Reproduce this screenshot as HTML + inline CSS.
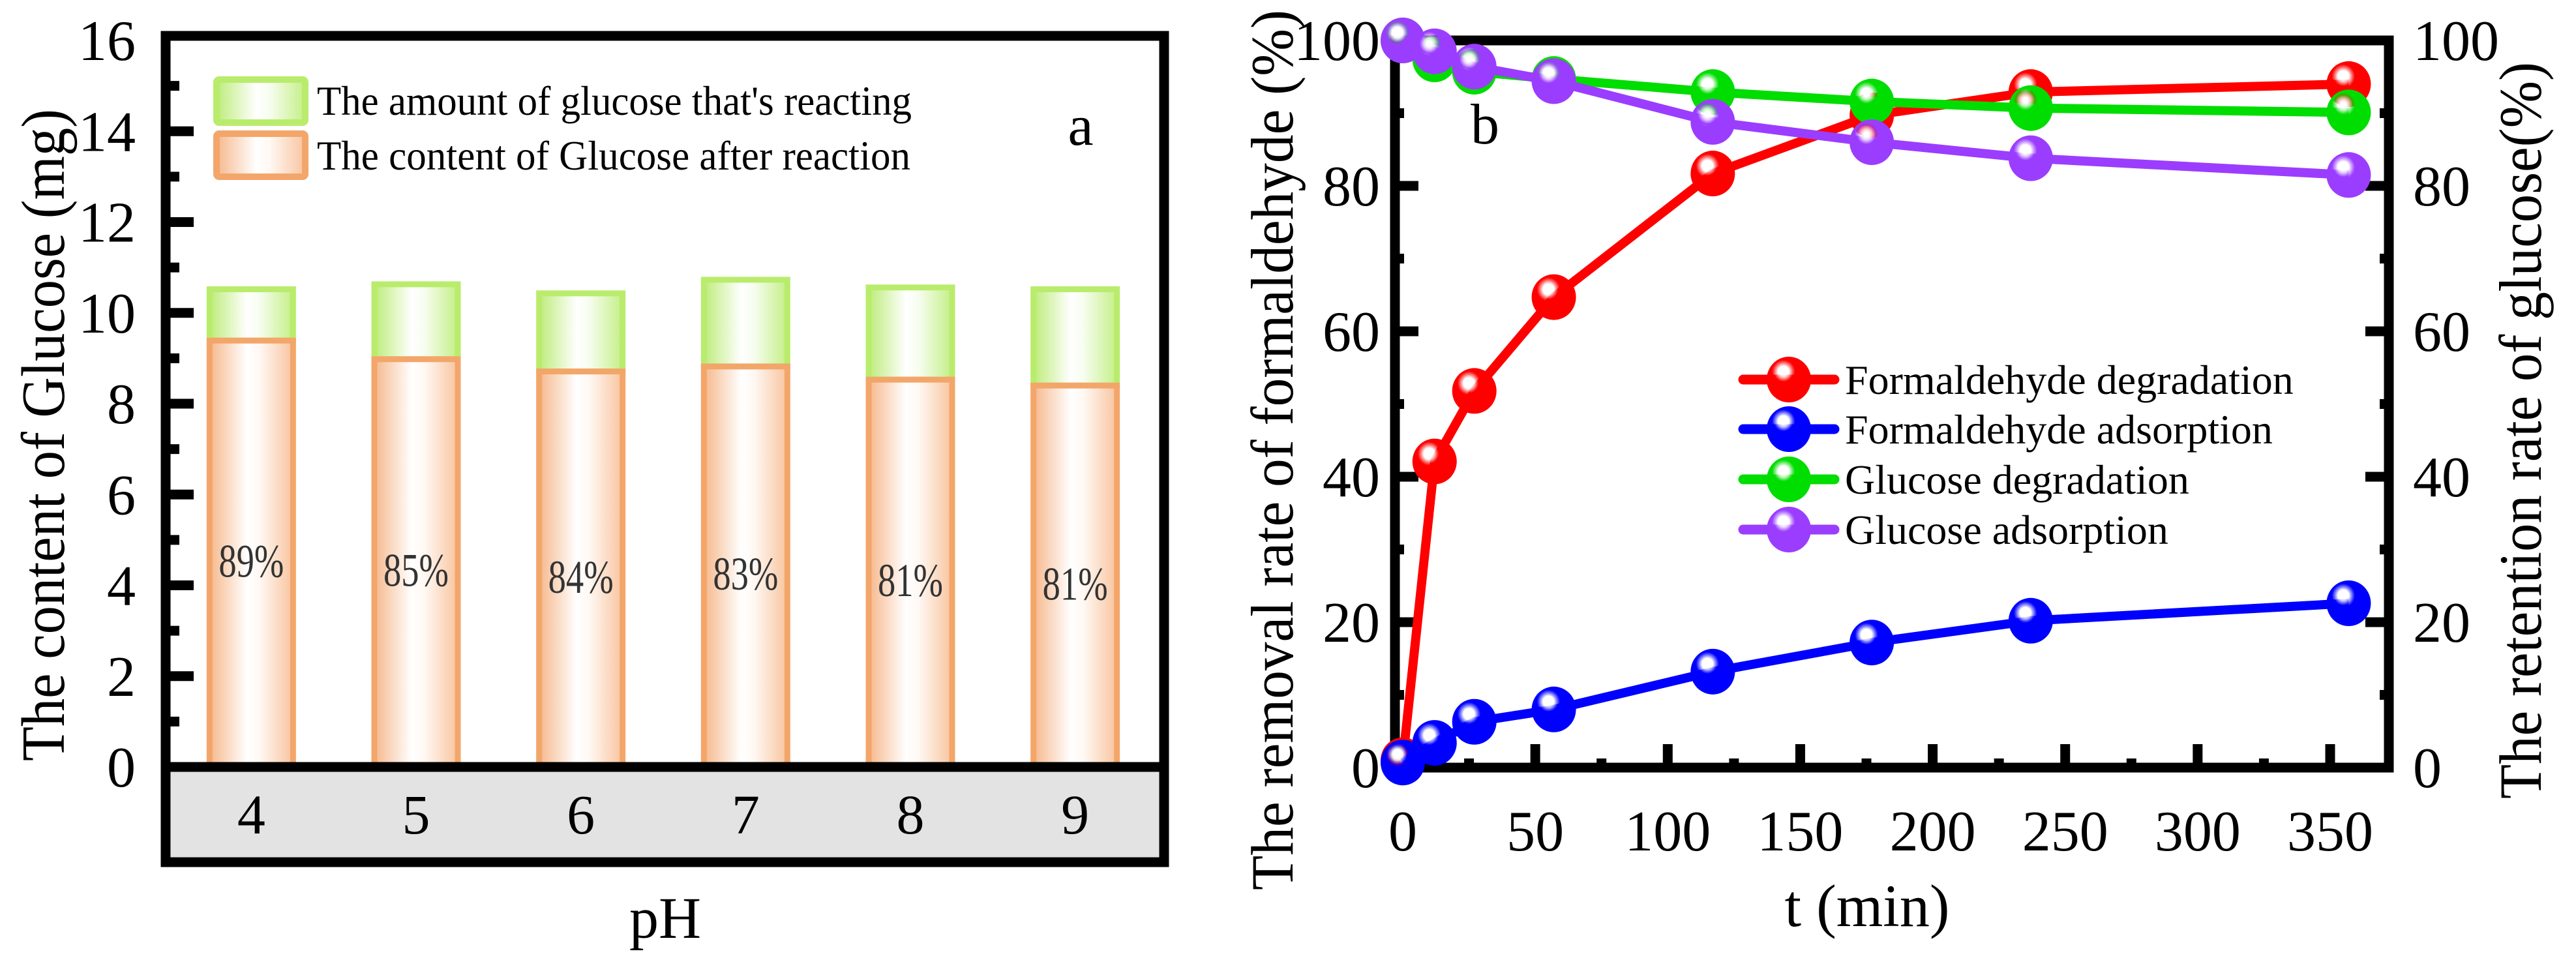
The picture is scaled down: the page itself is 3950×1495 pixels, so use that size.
<!DOCTYPE html>
<html><head><meta charset="utf-8"><style>
html,body{margin:0;padding:0;background:#fff}
svg{display:block;font-family:"Liberation Serif",serif}
svg text{font-family:"Liberation Serif",serif}
</style></head><body>
<svg id="c" width="3950" height="1495" viewBox="0 0 3950 1495" xmlns="http://www.w3.org/2000/svg">
<defs>
<linearGradient id="gOr" x1="0" x2="1" y1="0" y2="0"><stop offset="0" stop-color="#f6b88c"/><stop offset="0.45" stop-color="#ffffff"/><stop offset="0.6" stop-color="#fff8f3"/><stop offset="1" stop-color="#f8c49e"/></linearGradient>
<linearGradient id="gGr" x1="0" x2="1" y1="0" y2="0"><stop offset="0" stop-color="#bdec7a"/><stop offset="0.45" stop-color="#ffffff"/><stop offset="0.6" stop-color="#f6fdef"/><stop offset="1" stop-color="#c4ef86"/></linearGradient>
</defs>
<g id="left"></g>
<g id="right"></g>
</svg>
<script>
// ---- Panel a data ----
const phCats = ["4","5","6","7","8","9"];
const afterReaction = [9.39, 8.98, 8.71, 8.82, 8.53, 8.40];
const totalGlucose = [10.52, 10.63, 10.43, 10.73, 10.56, 10.52];
const pctLabels = ["89%","85%","84%","83%","81%","81%"];
const pctLabelY = [4.5, 4.3, 4.15, 4.22, 4.08, 4.0];
const leftTicks = [0,2,4,6,8,10,12,14,16];
// ---- Panel b data ----
const times = [0, 12, 27, 57, 117, 177, 237, 357];
const formDeg = [1, 42.1, 51.8, 64.7, 81.7, 89.7, 92.9, 94.0];
const formAds = [0.7, 3.4, 6.3, 8.0, 13.2, 17.2, 20.2, 22.6];
const gluDeg = [100, 97.4, 95.7, 94.7, 92.9, 91.6, 90.7, 90.1];
const gluAds = [100, 98.5, 96.4, 94.4, 88.8, 86.0, 83.8, 81.5];
const seriesNames = ["Formaldehyde degradation","Formaldehyde adsorption","Glucose degradation","Glucose adsorption"];
const xTicks = [0,50,100,150,200,250,300,350];
const yTicksB = [0,20,40,60,80,100];

const NS="http://www.w3.org/2000/svg";
function mk(tag,attrs,parent,text){const e=document.createElementNS(NS,tag);for(const k in attrs)e.setAttribute(k,attrs[k]);if(text!==undefined)e.textContent=text;parent.appendChild(e);return e;}
const L=document.getElementById('left'), R=document.getElementById('right');
const defs=document.querySelector('defs');

// ===== Panel a =====
const aL=262,aR=1778,aTop=62,aZero=1176,aBot=1315;
const ya=v=>aZero-(v/16)*(aZero-aTop);
const bandW=(aR-aL)/phCats.length;
const xa=i=>aL+bandW*(i+0.5)-3;
let e=mk('rect',{x:aL,y:aZero,width:aR-aL,height:aBot-aZero,fill:'#e3e3e3'},L);


phCats.forEach((c,i)=>{
  const cx=xa(i), w=128;
  let g=mk('rect',{x:cx-w/2,y:ya(totalGlucose[i]),width:w,height:ya(afterReaction[i])-ya(totalGlucose[i]),fill:'url(#gGr)',stroke:'#b9ec6c','stroke-width':9},L);
  
  
  let o=mk('rect',{x:cx-w/2,y:ya(afterReaction[i]),width:w,height:aZero-ya(afterReaction[i]),fill:'url(#gOr)',stroke:'#f3a66a','stroke-width':9},L);
  
  
  let t=mk('text',{x:cx,y:ya(pctLabelY[i])+22,'font-size':72,'text-anchor':'middle',fill:'#333',textLength:100,lengthAdjust:'spacingAndGlyphs'},L,pctLabels[i]);
  
  
  let xl=mk('text',{x:cx,y:1278,'font-size':86,'text-anchor':'middle'},L,c);
  
  
});
e=mk('rect',{x:254,y:aTop-7,width:1531,height:aBot-aTop+14,fill:'none',stroke:'#000','stroke-width':15},L);


e=mk('line',{x1:254,x2:1785,y1:aZero,y2:aZero,stroke:'#000','stroke-width':15},L);


for(let v=1;v<16;v++){
  const y=ya(v), major=v%2===0;
  const tk=mk('line',{x1:261,x2:major?297:275,y1:y,y2:y,stroke:'#000','stroke-width':15},L);
  
  
}
leftTicks.forEach(v=>{
  let t=mk('text',{x:208,y:ya(v)+30,'font-size':88,'text-anchor':'end'},L,String(v));
  
  
});
e=mk('text',{transform:'translate(98,667) rotate(-90)','font-size':94,'text-anchor':'middle',textLength:1000,lengthAdjust:'spacingAndGlyphs'},L,'The content of Glucose (mg)');


e=mk('text',{x:1020,y:1438,'font-size':90,'text-anchor':'middle'},L,'pH');


e=mk('text',{x:1657,y:222,'font-size':88,'text-anchor':'middle'},L,'a');


e=mk('rect',{x:332,y:122,width:136,height:66,fill:'url(#gGr)',stroke:'#b9ec6c','stroke-width':10,rx:4},L);


e=mk('rect',{x:332,y:205,width:136,height:66,fill:'url(#gOr)',stroke:'#f3a66a','stroke-width':10,rx:4},L);


e=mk('text',{x:486,y:176,'font-size':64,textLength:912,lengthAdjust:'spacingAndGlyphs'},L,"The amount of glucose that's reacting");


e=mk('text',{x:486,y:260,'font-size':64,textLength:910,lengthAdjust:'spacingAndGlyphs'},L,'The content of Glucose after reaction');



// ===== Panel b =====
const bL=2139,bR=3663,bTop=62,bBot=1177;
const xb=t=>2151+t*(3573-2151)/350;
const yb=v=>bBot-(v/100)*(bBot-bTop);
e=mk('rect',{x:bL,y:bTop,width:bR-bL,height:bBot-bTop,fill:'none',stroke:'#000','stroke-width':15},R);


for(let v=10;v<100;v+=10){
  const y=yb(v), major=v%20===0;
  let a=mk('line',{x1:bL,x2:bL+(major?36:14),y1:y,y2:y,stroke:'#000','stroke-width':15},R);
  
  
  let b=mk('line',{x1:bR,x2:bR-(major?36:14),y1:y,y2:y,stroke:'#000','stroke-width':15},R);
  
  
}
for(let t=25;t<=350;t+=25){
  const x=xb(t), major=t%50===0;
  let a=mk('line',{x1:x,x2:x,y1:bBot,y2:bBot-(major?36:14),stroke:'#000','stroke-width':15},R);
  
  
}
yTicksB.forEach(v=>{
  let t=mk('text',{x:2116,y:yb(v)+30,'font-size':88,'text-anchor':'end'},R,String(v));
  
  
  t=mk('text',{x:3700,y:yb(v)+30,'font-size':88,'text-anchor':'start'},R,String(v));
  
  
});
xTicks.forEach(v=>{
  let t=mk('text',{x:xb(v),y:1304,'font-size':88,'text-anchor':'middle'},R,String(v));
  
  
});
e=mk('text',{transform:'translate(1982,690) rotate(-90)','font-size':92,'text-anchor':'middle',textLength:1350,lengthAdjust:'spacingAndGlyphs'},R,'The removal rate of formaldehyde (%)');


e=mk('text',{transform:'translate(3896,660) rotate(-90)','font-size':92,'text-anchor':'middle',textLength:1130,lengthAdjust:'spacingAndGlyphs'},R,'The retention rate of glucose(%)');


e=mk('text',{x:2863,y:1420,'font-size':92,'text-anchor':'middle'},R,'t (min)');


e=mk('text',{x:2277,y:220,'font-size':88,'text-anchor':'middle'},R,'b');



const colors=['#ff0000','#0000ff','#00dd00','#9b3dff'];
const seriesData=[formDeg,formAds,gluDeg,gluAds];
colors.forEach((c,k)=>{
  const gr=mk('radialGradient',{id:'m'+k,cx:'0.38',cy:'0.33',r:'0.62'},defs);
  mk('stop',{offset:'0','stop-color':'#fff'},gr);
  mk('stop',{offset:'0.1','stop-color':'#fff'},gr);
  mk('stop',{offset:'0.2','stop-color':'#fff','stop-opacity':'0.75'},gr);
  mk('stop',{offset:'0.35','stop-color':c,'stop-opacity':'0.7'},gr);
  mk('stop',{offset:'0.42','stop-color':c},gr);
  mk('stop',{offset:'1','stop-color':c},gr);
});
function marker(x,y,k,parent){
  return mk('ellipse',{cx:x,cy:y,rx:34,ry:35,fill:'url(#m'+k+')'},parent);
}
seriesData.forEach((d,k)=>{
  const g=mk('g',{},R);
  
  
  const pts=times.map((t,i)=>xb(t)+','+yb(d[i])).join(' ');
  mk('polyline',{points:pts,fill:'none',stroke:colors[k],'stroke-width':14,'stroke-linejoin':'round'},g);
  times.forEach((t,i)=>{
    const m=marker(xb(t),yb(d[i]),k,g);
    
    
  });
});
const legY=[582,658,735,812];
seriesNames.forEach((n,k)=>{
  const g=mk('g',{},R);
  
  
  mk('line',{x1:2673,x2:2813,y1:legY[k],y2:legY[k],stroke:colors[k],'stroke-width':15,'stroke-linecap':'round'},g);
  marker(2743,legY[k],k,g);
  mk('text',{x:2829,y:legY[k]+22,'font-size':64},g,n);
});
</script>
</body></html>
